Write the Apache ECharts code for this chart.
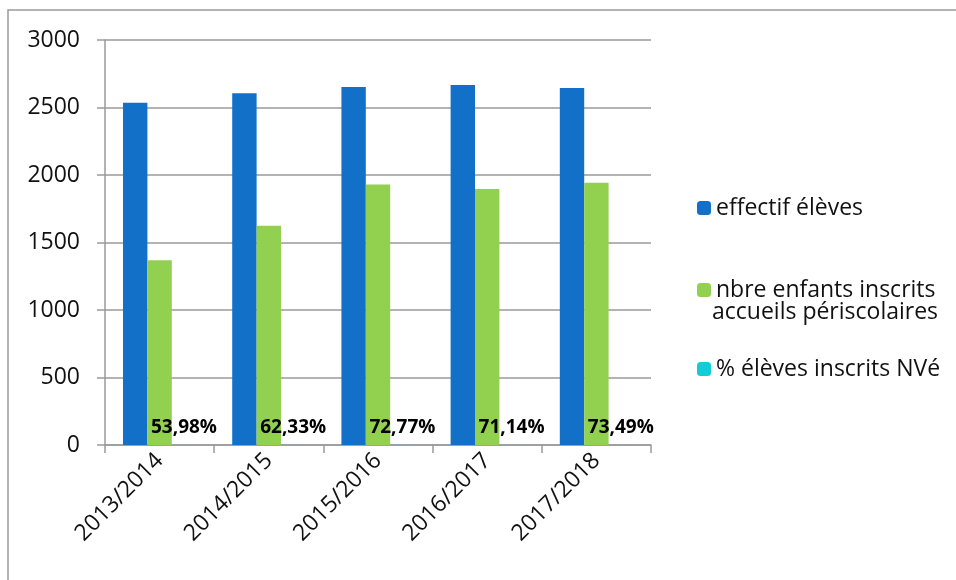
<!DOCTYPE html>
<html>
<head>
<meta charset="utf-8">
<script src="https://cdn.jsdelivr.net/npm/echarts@6/dist/echarts.min.js"></script>
<style>
  html, body { margin: 0; padding: 0; background: #fff; }
  #chart { width: 956px; height: 580px; }
</style>
</head>
<body>
<div id="chart"></div>
<script>
const years = ['2013/2014', '2014/2015', '2015/2016', '2016/2017', '2017/2018']
const effectif = [2536, 2605, 2652, 2667, 2644]
const inscrits = [1369, 1624, 1930, 1897, 1943]
const pctNve = [0.5398, 0.6233, 0.7277, 0.7114, 0.7349]
const pctLabels = ['53,98%', '62,33%', '72,77%', '71,14%', '73,49%']

const font = 'Open Sans'
const chart = echarts.init(document.getElementById('chart'))

const option = {
  animation: false,
  textStyle: { fontFamily: font },
  grid: { left: 105, right: 305, top: 40, bottom: 135 },
  legend: [
    {
      data: ['effectif élèves'],
      left: 692, top: 189,
      itemWidth: 14, itemHeight: 14, itemGap: 0,
      textStyle: { fontSize: 23, color: '#111', lineHeight: 28 }
    },
    {
      data: ['nbre enfants inscrits accueils périscolaires'],
      formatter: () => 'nbre enfants inscrits',
      left: 692, top: 271,
      itemWidth: 14, itemHeight: 14, itemGap: 0,
      textStyle: { fontSize: 23, color: '#111', lineHeight: 28 }
    },
    {
      data: ['% élèves inscrits NVé'],
      left: 692, top: 350,
      itemWidth: 14, itemHeight: 14, itemGap: 0,
      textStyle: { fontSize: 23, color: '#111', lineHeight: 28 }
    }
  ],
  graphic: [
    {
      type: 'rect',
      shape: { x: 8, y: 10, width: 1000, height: 700 },
      style: { fill: 'none', stroke: '#9a9a9a', lineWidth: 1.5 },
      silent: true
    },
    {
      type: 'text',
      left: 712, top: 301,
      style: { text: 'accueils périscolaires', font: '23px "Open Sans"', fill: '#111' }
    }
  ],
  xAxis: {
    type: 'category',
    data: years,
    axisLine: { lineStyle: { color: '#9a9a9a', width: 1.5 } },
    axisTick: { show: true, length: 8, lineStyle: { color: '#9a9a9a', width: 1.5 } },
    axisLabel: { rotate: 45, fontSize: 23, color: '#111', margin: 12, interval: 0 }
  },
  yAxis: {
    type: 'value',
    min: 0, max: 3000, interval: 500,
    axisLine: { show: true, lineStyle: { color: '#9a9a9a', width: 1.5 } },
    axisTick: { show: true, length: 8, lineStyle: { color: '#9a9a9a', width: 1.5 } },
    axisLabel: { fontSize: 23, color: '#111', margin: 25, formatter: v => String(v) },
    splitLine: { lineStyle: { color: '#9a9a9a', width: 1.5 } }
  },
  series: [
    {
      name: 'effectif élèves',
      type: 'bar',
      data: effectif,
      barGap: '0%',
      barCategoryGap: '33%',
      itemStyle: { color: '#1270C8' }
    },
    {
      name: 'nbre enfants inscrits accueils périscolaires',
      type: 'bar',
      data: inscrits,
      itemStyle: { color: '#92D050' }
    },
    {
      name: '% élèves inscrits NVé',
      type: 'bar',
      data: pctNve,
      itemStyle: { color: '#12CDD8' },
      label: {
        show: true,
        position: 'top',
        distance: 8,
        fontSize: 19,
        fontWeight: 'bold',
        color: '#000',
        formatter: p => pctLabels[p.dataIndex]
      }
    }
  ]
}

chart.setOption(option)
</script>
</body>
</html>
